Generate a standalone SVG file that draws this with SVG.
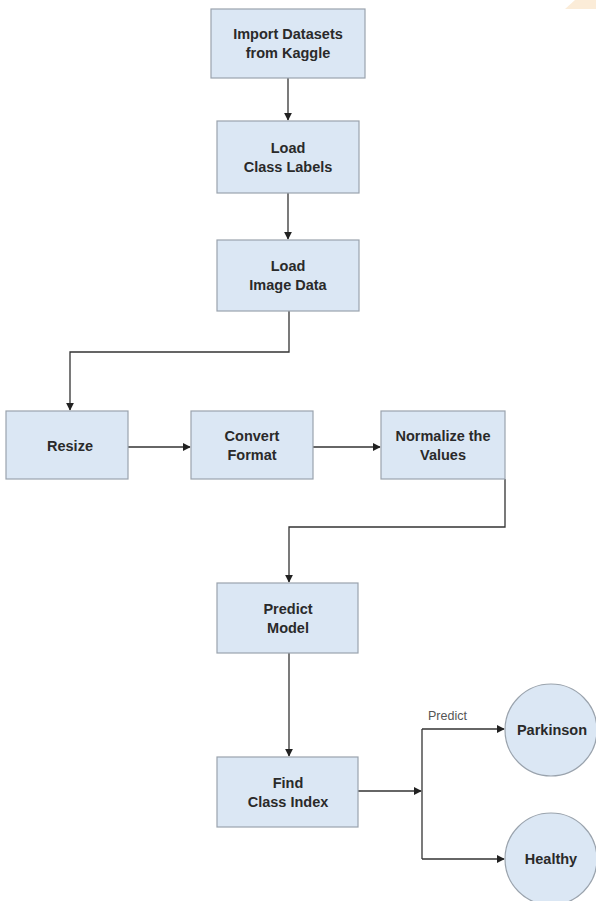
<svg xmlns="http://www.w3.org/2000/svg" width="596" height="901" viewBox="0 0 596 901">
<defs>
<style>
.box{fill:#dbe7f4;stroke:#9aa3ad;stroke-width:1.2}
.circ{fill:#dbe7f4;stroke:#9aa3ad;stroke-width:1.2}
.t{font-family:"Liberation Sans",Arial,sans-serif;font-size:14.5px;font-weight:bold;fill:#2a2a2a;text-anchor:middle}
.lbl{font-family:"Liberation Sans",Arial,sans-serif;font-size:12.5px;fill:#555;text-anchor:start}
.c{fill:none;stroke:#333;stroke-width:1.3;marker-end:url(#ah)}
.c2{fill:none;stroke:#333;stroke-width:1.3}
</style>
<marker id="ah" viewBox="0 0 10 10" refX="9" refY="5" markerWidth="8" markerHeight="8" markerUnits="userSpaceOnUse" orient="auto">
<path d="M0,0 L10,5 L0,10 Z" fill="#222"/>
</marker>
</defs>
<rect width="596" height="901" fill="#ffffff"/>
<polygon points="565,9 575,0 596,0 596,9" fill="#fbecd8"/>
<g id="connectors">
<path class="c" d="M288,78 L288,120"/>
<path class="c" d="M288,193 L288,239"/>
<path class="c" d="M289,311 L289,352 L70,352 L70,410"/>
<path class="c" d="M128,447 L190,447"/>
<path class="c" d="M313,447 L380,447"/>
<path class="c" d="M505,479 L505,527 L289,527 L289,582"/>
<path class="c" d="M289,653 L289,756"/>
<path class="c" d="M358,791 L421,791"/>
<path class="c2" d="M422,729 L422,859"/>
<path class="c" d="M422,729 L504,729"/>
<path class="c" d="M422,859 L504,859"/>
<text class="lbl" x="428" y="720">Predict</text>
</g>
<g id="n1"><rect class="box" x="211" y="9" width="154" height="69"/><text class="t" x="288" y="39">Import Datasets</text><text class="t" x="288" y="58">from Kaggle</text></g>
<g id="n2"><rect class="box" x="217" y="121" width="142" height="72"/><text class="t" x="288" y="152.5">Load</text><text class="t" x="288" y="171.5">Class Labels</text></g>
<g id="n3"><rect class="box" x="217" y="240" width="142" height="71"/><text class="t" x="288" y="271">Load</text><text class="t" x="288" y="290">Image Data</text></g>
<g id="n4"><rect class="box" x="6" y="411" width="122" height="68"/><text class="t" x="70" y="450.5">Resize</text></g>
<g id="n5"><rect class="box" x="191" y="411" width="122" height="68"/><text class="t" x="252" y="440.5">Convert</text><text class="t" x="252" y="459.5">Format</text></g>
<g id="n6"><rect class="box" x="381" y="411" width="124" height="68"/><text class="t" x="443" y="440.5">Normalize the</text><text class="t" x="443" y="459.5">Values</text></g>
<g id="n7"><rect class="box" x="217" y="583" width="141" height="70"/><text class="t" x="288" y="613.5">Predict</text><text class="t" x="288" y="632.5">Model</text></g>
<g id="n8"><rect class="box" x="217" y="757" width="141" height="70"/><text class="t" x="288" y="787.5">Find</text><text class="t" x="288" y="806.5">Class Index</text></g>
<g id="n9"><circle class="circ" cx="551" cy="730" r="46"/><text class="t" x="552" y="735">Parkinson</text></g>
<g id="n10"><circle class="circ" cx="551" cy="859" r="46"/><text class="t" x="551" y="864">Healthy</text></g>
</svg>
